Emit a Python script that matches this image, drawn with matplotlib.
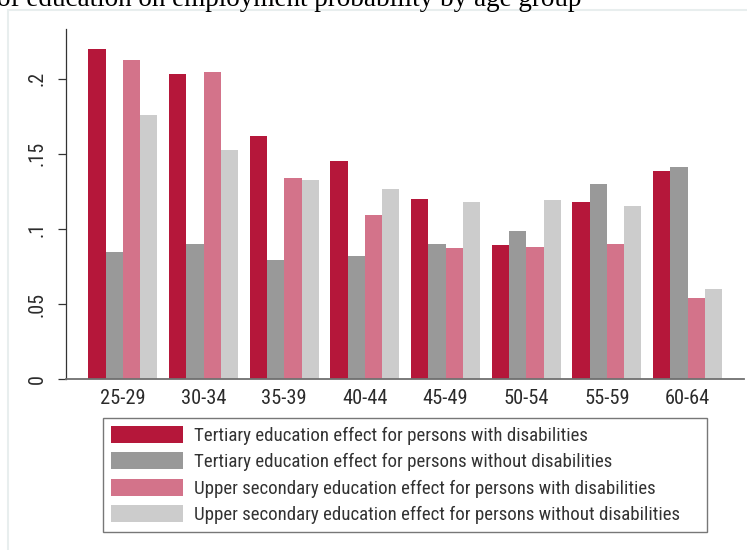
import matplotlib
matplotlib.use("Agg")
import matplotlib.pyplot as plt
from matplotlib import font_manager
from matplotlib.patches import Rectangle, Patch
import numpy as np

# ---- data -------------------------------------------------------------
age_groups = ["25-29", "30-34", "35-39", "40-44", "45-49", "50-54", "55-59", "60-64"]

tertiary_with_dis = [0.220, 0.203, 0.162, 0.145, 0.120, 0.0895, 0.118, 0.1385]
tertiary_without_dis = [0.0846, 0.0897, 0.0790, 0.0817, 0.0902, 0.0986, 0.130, 0.141]
upper_sec_with_dis = [0.2123, 0.2045, 0.1337, 0.109, 0.0871, 0.0882, 0.0902, 0.054]
upper_sec_without_dis = [0.1757, 0.1523, 0.1324, 0.1266, 0.1179, 0.1193, 0.1153, 0.060]

series_labels = [
    "Tertiary education effect for persons with disabilities",
    "Tertiary education effect for persons without disabilities",
    "Upper secondary education effect for persons with disabilities",
    "Upper secondary education effect for persons without disabilities",
]
series_colors = ["#b5173a", "#999999", "#d3738a", "#cccccc"]

y_ticks = [0, 0.05, 0.10, 0.15, 0.20]
y_tick_labels = ["0", ".05", ".1", ".15", ".2"]

title_text = "of education on employment probability by age group"


# ---- fonts ------------------------------------------------------------
def first_available(families):
    for fam in families:
        try:
            font_manager.findfont(font_manager.FontProperties(family=fam),
                                  fallback_to_default=False)
            return fam
        except ValueError:
            continue
    return "DejaVu Sans"


sans = first_available(["Liberation Sans Narrow", "Roboto Condensed", "Roboto"])
serif = first_available(["Liberation Serif", "DejaVu Serif"])
text_color = "#2b2b2b"

W, H = 747, 550
fig = plt.figure(figsize=(W / 100, H / 100), dpi=100)
fig.patch.set_facecolor("white")
renderer = fig.canvas.get_renderer()


def size_for_width(s, family, target_px, base=12.0):
    t = fig.text(0, 0, s, fontsize=base, family=family)
    w = t.get_window_extent(renderer).width
    t.remove()
    return base * target_px / w


legend_fs = size_for_width(series_labels[0], sans, 394)
xtick_fs = size_for_width("25-29", sans, 45)
ytick_fs = size_for_width(".15", sans, 25)
title_fs = size_for_width(title_text, serif, 586)

# light panel outline around the graph region
fig.patches.append(Rectangle((8 / W, -0.05), 1.2, 1 - 10 / H + 0.05,
                             transform=fig.transFigure, fill=False,
                             edgecolor="#e8eeee", linewidth=1.5))

# title (top part runs off the page)
fig.text(581 / W, 1 - 6.5 / H, title_text, ha="right", va="baseline",
         family=serif, fontsize=title_fs, color="black")

# ---- plot area --------------------------------------------------------
ax = fig.add_axes([66 / W, 171 / H, (744 - 66) / W, 350 / H])
ax.set_facecolor("white")

x = np.arange(len(age_groups))
bar_w = 0.2145
all_series = [tertiary_with_dis, tertiary_without_dis,
              upper_sec_with_dis, upper_sec_without_dis]
for i, (vals, col) in enumerate(zip(all_series, series_colors)):
    ax.bar(x + (i - 1.5) * bar_w, vals, width=bar_w, color=col,
           linewidth=0, zorder=2)

ax.set_xlim(-0.705, 7.70)
ax.set_ylim(0, 350 / 1501)

ax.set_yticks(y_ticks)
ax.set_yticklabels(y_tick_labels, rotation=90, va="center",
                   family=sans, fontsize=ytick_fs, color=text_color)
ax.set_xticks(x)
ax.set_xticklabels(age_groups, family=sans, fontsize=xtick_fs, color=text_color)

ax.tick_params(axis="y", direction="out", length=5.8, width=0.9,
               color="#333333", pad=8)
ax.tick_params(axis="x", length=0, pad=7.5)

for side in ("top", "right"):
    ax.spines[side].set_visible(False)
ax.spines["left"].set_color("#333333")
ax.spines["left"].set_linewidth(0.9)
ax.spines["bottom"].set_color("#707070")
ax.spines["bottom"].set_linewidth(1.3)

# ---- legend -----------------------------------------------------------
handles = [Patch(facecolor=c, edgecolor="none") for c in series_colors]
fs_px = legend_fs * 100 / 72
leg = fig.legend(handles, series_labels,
                 loc="upper left",
                 bbox_to_anchor=(103.3 / W, 1 - 418.3 / H, (706.7 - 103.3) / W, 0),
                 bbox_transform=fig.transFigure,
                 mode="expand", borderaxespad=0,
                 prop={"family": sans, "size": legend_fs},
                 handlelength=72 / fs_px, handleheight=19.3 / fs_px,
                 handletextpad=11 / fs_px, labelspacing=7.4 / fs_px,
                 borderpad=7.5 / fs_px, frameon=True, fancybox=False)
leg.get_frame().set_edgecolor("#555555")
leg.get_frame().set_linewidth(1.0)
for t in leg.get_texts():
    t.set_color("#333333")

fig.savefig("out.png", dpi=100, facecolor="white")
